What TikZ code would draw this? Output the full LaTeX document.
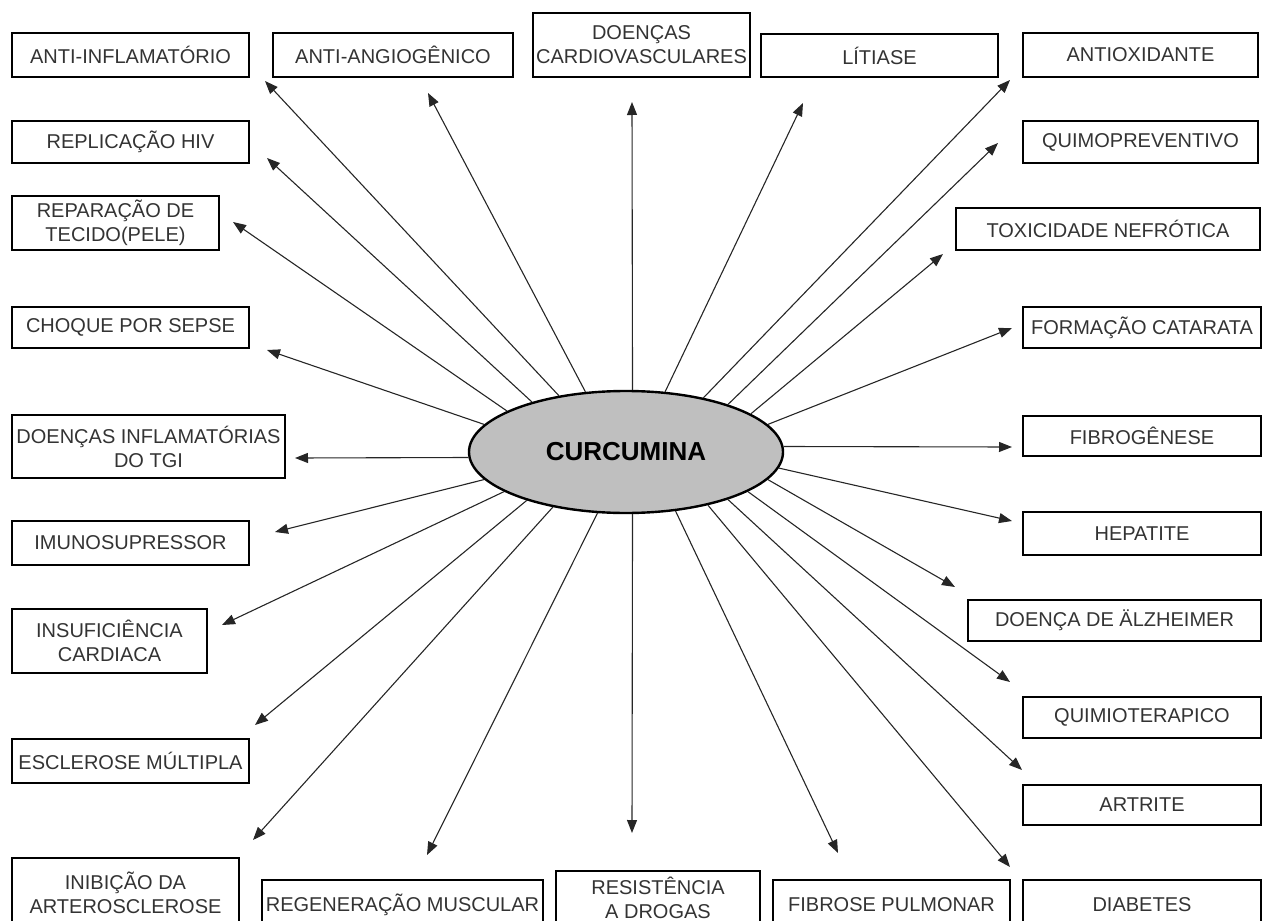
\documentclass[tikz,border=0pt]{standalone}
\usepackage{fontspec}
\setmainfont{Liberation Sans}
\usetikzlibrary{arrows.meta,shapes.geometric}
\begin{document}
\begin{tikzpicture}[
  x=0.5pt, y=-0.5pt,
  font=\fontsize{10}{12}\selectfont,
  box/.style={draw, line width=0.8pt, inner sep=0pt, align=center, text=black!80},
  arr/.style={-{Triangle[length=6.5pt,width=5pt]}, line width=0.55pt, black!85},
]
\useasboundingbox (0,0) rectangle (1265,921);

% centre
\node[ellipse, draw, line width=1.2pt, fill=black!25, minimum width=157pt,
  minimum height=61pt, inner sep=0pt, font=\bfseries\fontsize{13}{15}\selectfont]
  (curc) at (626,452) {CURCUMINA};

% boxes: name/left/top/right/bottom/text
\foreach \nm/\xa/\ya/\xb/\yb/\txt in {
  infl/12/33/249/77/{ANTI-INFLAMATÓRIO},
  angio/273/33/513/77/{ANTI-ANGIOGÊNICO},
  cardio/533/13/750/77/{DOENÇAS\\CARDIOVASCULARES},
  litiase/761/34/998/77/{LÍTIASE},
  antiox/1023/33/1258/77/{ANTIOXIDANTE},
  quimoprev/1023/121/1258/163/{QUIMOPREVENTIVO},
  toxic/956/208/1260/250/{TOXICIDADE NEFRÓTICA},
  catarata/1023/307/1261/348/{FORMAÇÃO CATARATA},
  fibrog/1023/416/1261/456/{FIBROGÊNESE},
  hepat/1023/512/1261/555/{HEPATITE},
  alzh/968/600/1261/641/{DOENÇA DE ÄLZHEIMER},
  quimiot/1023/697/1261/738/{QUIMIOTERAPICO},
  artrite/1023/785/1261/825/{ARTRITE},
  diab/1023/880/1261/930/{DIABETES},
  fibpulm/773/880/1010/930/{FIBROSE PULMONAR},
  resist/556/871/760/924/{RESISTÊNCIA\\A DROGAS},
  regen/262/880/543/930/{REGENERAÇÃO MUSCULAR},
  inib/12/858/239/928/{INIBIÇÃO DA\\ARTEROSCLEROSE},
  escl/12/739/249/783/{ESCLEROSE MÚLTIPLA},
  insuf/12/609/207/673/{INSUFICIÊNCIA\\CARDIACA},
  imuno/12/521/249/565/{IMUNOSUPRESSOR},
  tgi/12/415/285/478/{DOENÇAS INFLAMATÓRIAS\\DO TGI},
  choque/12/307/249/348/{CHOQUE POR SEPSE},
  repar/12/196/219/250/{REPARAÇÃO DE\\TECIDO(PELE)},
  hiv/12/121/249/163/{REPLICAÇÃO HIV}%
}
  \node[box, minimum width={(\xb-\xa)*0.5pt}, minimum height={(\yb-\ya)*0.5pt}]
    (\nm) at ({(\xa+\xb)/2},{(\ya+\yb)/2}) {\txt};

% arrows: name/angle on ellipse/tip
\foreach \nm/\ang/\tx/\ty in {
  infl/140/265/81, angio/124/428/93, cardio/84/632/102,
  litiase/57/803/103, antiox/35/1010/80, quimoprev/25/998/143,
  toxic/17.5/943/254, catarata/11.5/1012/328, fibrog/2/1012/447,
  hepat/354.5/1012/521, alzh/349/955/587, quimiot/342/1010/682,
  artrite/335/1022/770, diab/327/1010/867, fibpulm/310/838/853,
  resist/276/632/833, regen/245/427/855, inib/217/253/840,
  escl/206/255/725, insuf/198/222/625, imuno/191/275/532,
  tgi/182/295/458, choque/169/267/350, repar/161/233/222,
  hiv/152/267/158%
}{
  \coordinate (\nm-tip) at (\tx,\ty);
  \draw[arr] (curc.\ang) -- (\nm-tip);
}

\end{tikzpicture}
\end{document}
